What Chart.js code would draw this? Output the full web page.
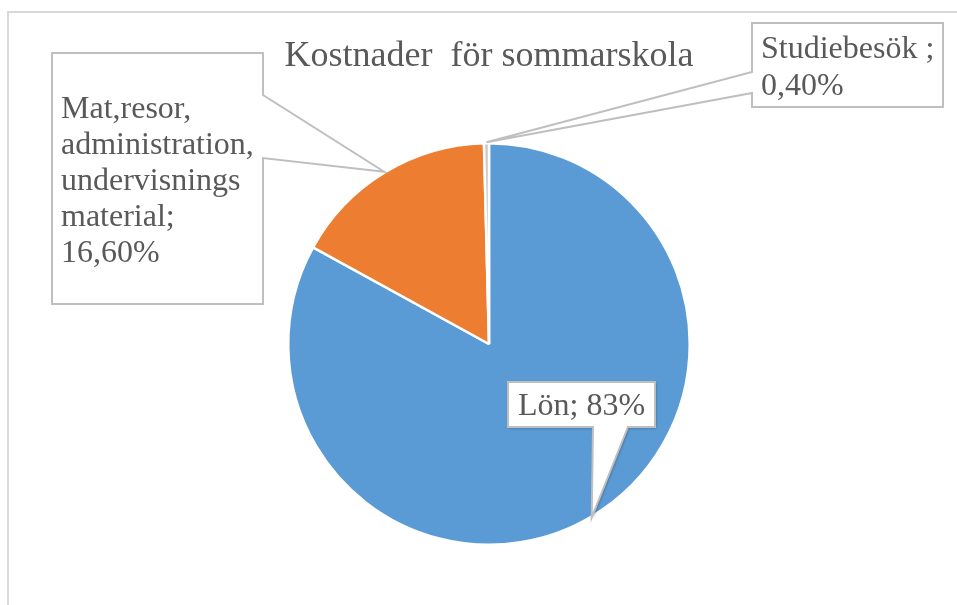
<!DOCTYPE html>
<html>
<head>
<meta charset="utf-8">
<script src="https://cdn.jsdelivr.net/npm/chart.js@4.4.0/dist/chart.umd.min.js"></script>
<style>
  html, body { margin: 0; padding: 0; background: #ffffff; }
  canvas { display: block; }
</style>
</head>
<body>
<canvas id="c" width="957" height="605"></canvas>
<script>
// ---- data ----
const chartTitle = 'Kostnader  för sommarskola';
const categories = ['Lön', 'Mat,resor,\nadministration,\nundervisnings\nmaterial', 'Studiebesök '];
const values = [83, 16.6, 0.4];
const valueLabels = ['83%', '16,60%', '0,40%'];
const colors = ['#5B9BD5', '#ED7D31', '#C9C9C9'];

// ---- callout layout (positions only) ----
const callouts = [
  { box: [508, 382, 655, 427], side: 'bottom', a: 593, b: 628, sep: ' ', tx: 518, ty: 415, lh: 36, shadow: true },
  { box: [52, 53, 263, 304], side: 'right', a: 95, b: 158, sep: '\n', tx: 61, ty: 118, lh: 36 },
  { box: [752, 23, 943, 107], side: 'left', a: 72, b: 93, sep: '\n', tx: 761, ty: 58, lh: 37 }
];

const TEXT_COLOR = '#595959';
const LABEL_FONT = '32px "Liberation Serif", "Times New Roman", serif';
const TITLE_FONT = '36px "Liberation Serif", "Times New Roman", serif';

function calloutPath(ctx, c, tip) {
  const [x1, y1, x2, y2] = c.box;
  ctx.beginPath();
  ctx.moveTo(x1, y1);
  if (c.side === 'top') { ctx.lineTo(c.a, y1); ctx.lineTo(tip.x, tip.y); ctx.lineTo(c.b, y1); }
  ctx.lineTo(x2, y1);
  if (c.side === 'right') { ctx.lineTo(x2, c.a); ctx.lineTo(tip.x, tip.y); ctx.lineTo(x2, c.b); }
  ctx.lineTo(x2, y2);
  if (c.side === 'bottom') { ctx.lineTo(c.b, y2); ctx.lineTo(tip.x, tip.y); ctx.lineTo(c.a, y2); }
  ctx.lineTo(x1, y2);
  if (c.side === 'left') { ctx.lineTo(x1, c.b); ctx.lineTo(tip.x, tip.y); ctx.lineTo(x1, c.a); }
  ctx.closePath();
}

const decorPlugin = {
  id: 'decor',
  beforeDraw(chart) {
    const ctx = chart.ctx;
    ctx.save();
    ctx.fillStyle = '#ffffff';
    ctx.fillRect(0, 0, chart.width, chart.height);
    ctx.strokeStyle = '#D9D9D9';
    ctx.lineWidth = 2;
    ctx.strokeRect(8, 12, 2000, 2000);
    // title
    ctx.font = TITLE_FONT;
    ctx.fillStyle = TEXT_COLOR;
    ctx.textAlign = 'center';
    ctx.textBaseline = 'alphabetic';
    ctx.fillText(chartTitle, 489, 66);
    ctx.restore();
  },
  afterDatasetsDraw(chart) {
    const ctx = chart.ctx;
    const meta = chart.getDatasetMeta(0);
    ctx.save();
    meta.data.forEach((arc, i) => {
      const c = callouts[i];
      if (!c) return;
      const mid = (arc.startAngle + arc.endAngle) / 2;
      const r = arc.outerRadius + 1;
      const tip = { x: arc.x + Math.cos(mid) * r, y: arc.y + Math.sin(mid) * r };
      ctx.save();
      if (c.shadow) {
        ctx.shadowColor = 'rgba(0,0,0,0.35)';
        ctx.shadowBlur = 3;
        ctx.shadowOffsetX = 1;
        ctx.shadowOffsetY = 1;
      }
      calloutPath(ctx, c, tip);
      ctx.fillStyle = '#ffffff';
      ctx.fill();
      ctx.restore();
      calloutPath(ctx, c, tip);
      ctx.strokeStyle = '#BFBFBF';
      ctx.lineWidth = 2;
      ctx.lineJoin = 'miter';
      ctx.stroke();
      const text = categories[i] + ';' + c.sep + valueLabels[i];
      const lines = text.split('\n');
      ctx.font = LABEL_FONT;
      ctx.fillStyle = TEXT_COLOR;
      ctx.textAlign = 'left';
      ctx.textBaseline = 'alphabetic';
      lines.forEach((ln, k) => ctx.fillText(ln, c.tx, c.ty + k * c.lh));
    });
    ctx.restore();
  }
};

new Chart(document.getElementById('c'), {
  type: 'pie',
  data: {
    labels: categories,
    datasets: [{
      data: values,
      backgroundColor: colors,
      borderColor: '#ffffff',
      borderWidth: 2.5
    }]
  },
  options: {
    responsive: false,
    devicePixelRatio: 1,
    animation: false,
    events: [],
    layout: { padding: { left: 287, right: 266, top: 142, bottom: 59 } },
    plugins: {
      legend: { display: false },
      title: { display: false },
      tooltip: { enabled: false }
    }
  },
  plugins: [decorPlugin]
});
</script>
</body>
</html>
